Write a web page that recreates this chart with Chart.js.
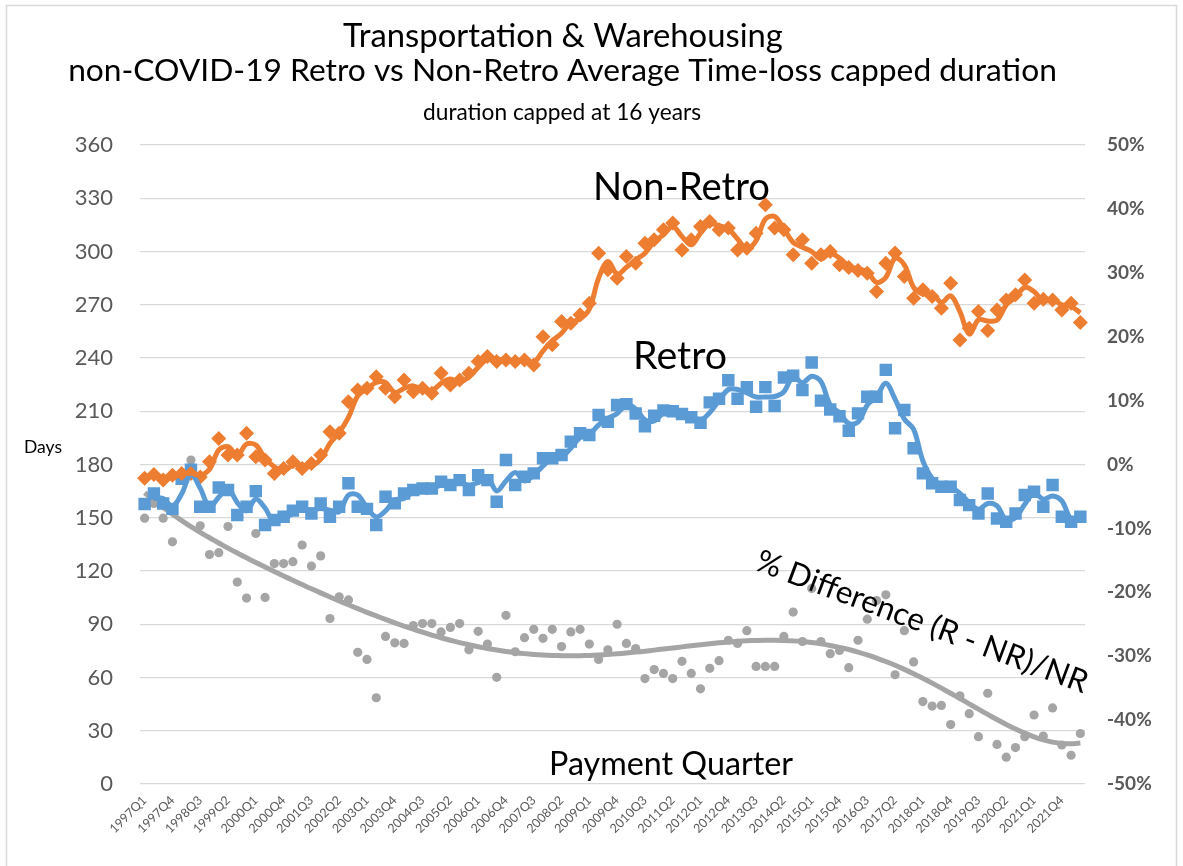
<!DOCTYPE html>
<html>
<head>
<meta charset="utf-8">
<script src="https://cdn.jsdelivr.net/npm/chart.js@4.4.1/dist/chart.umd.min.js"></script>
<style>
  html, body { margin: 0; padding: 0; background: #ffffff; }
  #wrap { width: 1183px; height: 866px; position: relative; }
</style>
</head>
<body>
<div id="wrap"><canvas id="chart" width="1183" height="866"></canvas></div>
<script>
// Payment quarters, 1997Q1 .. 2022Q2
const quarters = [];
for (let y = 1997; y <= 2022; y++) {
  for (let q = 1; q <= 4; q++) {
    if (y === 2022 && q > 2) break;
    quarters.push(y + 'Q' + q);
  }
}

// Average time-loss capped duration (days), non-retro employers
const nonRetroDays = [
  172.2, 174.4, 171.2, 174.0, 175.0, 175.0, 173.0, 181.6, 194.7, 185.3,
  185.3, 197.6, 184.4, 182.5, 175.0, 177.8, 181.6, 177.8, 180.6, 185.3,
  198.5, 197.6, 215.4, 222.0, 223.0, 229.5, 222.9, 218.2, 227.6, 221.0,
  222.9, 220.1, 231.4, 224.8, 227.6, 231.4, 238.0, 240.8, 238.0, 238.9,
  238.0, 238.9, 236.1, 252.0, 247.4, 260.5, 259.6, 264.3, 270.9, 299.0,
  289.7, 285.0, 297.2, 293.4, 304.7, 306.6, 312.2, 316.0, 300.9, 306.6,
  314.1, 316.9, 312.2, 313.2, 300.9, 301.9, 310.3, 326.3, 313.2, 312.2,
  298.1, 306.6, 293.4, 298.1, 300.0, 292.5, 291.0, 289.3, 287.8, 277.4,
  293.4, 299.1, 285.9, 273.7, 278.4, 274.6, 268.0, 282.1, 250.2, 256.8,
  266.2, 255.5, 267.1, 272.7, 275.6, 284.0, 270.9, 273.1, 272.7, 267.1,
  270.9, 260.0
];

// Average time-loss capped duration (days), retro employers
const retroDays = [
  157.7, 163.7, 158.0, 155.0, 172.0, 177.0, 156.2, 156.2, 167.0, 165.6,
  151.5, 156.2, 165.0, 145.9, 148.7, 150.6, 154.0, 156.2, 152.4, 158.0,
  150.6, 156.2, 169.4, 156.2, 155.0, 145.9, 161.8, 158.1, 163.7, 165.6,
  166.5, 166.5, 170.3, 168.4, 171.2, 165.6, 174.0, 171.2, 159.0, 182.5,
  168.4, 173.1, 175.0, 183.5, 183.5, 185.3, 192.9, 197.6, 196.6, 207.9,
  204.0, 213.5, 214.0, 208.7, 201.5, 207.5, 210.5, 210.0, 208.5, 206.6,
  203.5, 215.0, 217.0, 227.5, 217.0, 223.6, 212.5, 223.6, 213.0, 229.0,
  230.0, 222.0, 237.5, 216.0, 211.0, 207.2, 199.0, 208.8, 218.2, 218.2,
  233.3, 200.4, 210.7, 189.1, 175.0, 169.4, 167.5, 167.5, 160.0, 157.1,
  152.4, 163.7, 149.6, 147.7, 152.4, 162.8, 164.7, 156.2, 168.4, 150.6,
  147.7, 150.6
];

// % difference (R - NR)/NR, in percent
const pctDifference = [
   -8.4,  -6.1,  -8.4, -12.1,  -1.7,   0.7,  -9.6, -14.1, -13.8,  -9.7,
  -18.4, -20.9, -10.8, -20.8, -15.5, -15.5, -15.2, -12.6, -15.9, -14.3,
  -24.1, -20.7, -21.2, -29.4, -30.5, -36.5, -26.9, -27.9, -28.0, -25.2,
  -24.9, -24.9, -26.2, -25.5, -24.9, -29.0, -26.1, -28.1, -33.3, -23.6,
  -29.3, -27.1, -25.8, -27.2, -25.8, -28.5, -26.2, -25.8, -28.1, -30.5,
  -29.0, -25.0, -28.0, -28.8, -33.5, -32.1, -32.7, -33.5, -30.8, -32.7,
  -35.1, -31.9, -30.7, -27.5, -28.0, -26.0, -31.6, -31.6, -31.6, -26.9,
  -23.1, -27.7, -19.4, -27.7, -29.6, -29.1, -31.8, -27.5, -24.2, -21.3,
  -20.4, -32.9, -26.0, -30.9, -37.1, -37.8, -37.7, -40.7, -36.2, -39.0,
  -42.6, -35.8, -43.8, -45.8, -44.3, -42.6, -39.2, -42.5, -38.1, -43.9,
  -45.5, -42.1
];

// Axis ticks
const daysTicks = { min: 0, max: 360, step: 30 };
const pctTicks = { min: -50, max: 50, step: 10 };

// Trendlines: 2-period moving average and polynomial fit
function movingAverage(values, period) {
  return values.map((v, i) => {
    if (i < period - 1) return null;
    let s = 0;
    for (let k = 0; k < period; k++) s += values[i - k];
    return s / period;
  });
}

function polynomialTrend(values, degree) {
  const n = values.length, c = (n - 1) / 2, m = degree + 1;
  const A = Array.from({ length: m }, () => new Array(m + 1).fill(0));
  values.forEach((v, i) => {
    const t = (i - c) / c;
    const p = [];
    for (let k = 0; k < m; k++) p.push(Math.pow(t, k));
    for (let r = 0; r < m; r++) {
      for (let s = 0; s < m; s++) A[r][s] += p[r] * p[s];
      A[r][m] += p[r] * v;
    }
  });
  for (let col = 0; col < m; col++) {
    let piv = col;
    for (let r = col + 1; r < m; r++) if (Math.abs(A[r][col]) > Math.abs(A[piv][col])) piv = r;
    [A[col], A[piv]] = [A[piv], A[col]];
    for (let r = 0; r < m; r++) {
      if (r === col) continue;
      const f = A[r][col] / A[col][col];
      for (let s = col; s <= m; s++) A[r][s] -= f * A[col][s];
    }
  }
  const coef = A.map((row, k) => row[m] / row[k]);
  return values.map((_, i) => {
    const t = (i - c) / c;
    return coef.reduce((s, a, k) => s + a * Math.pow(t, k), 0);
  });
}

const ORANGE = '#ED7D31';
const BLUE = '#5B9BD5';
const GREY = '#A5A5A5';
const FONT = 'Lato, "Open Sans", sans-serif';

function fitFont(ctx, text, weight, width) {
  ctx.font = weight + ' 100px ' + FONT;
  return 100 * width / ctx.measureText(text).width;
}

function drawText(ctx, text, cx, baseline, width, opts = {}) {
  const weight = opts.weight || 'normal';
  const size = fitFont(ctx, text, weight, width);
  ctx.save();
  ctx.font = weight + ' ' + size.toFixed(2) + 'px ' + FONT;
  ctx.fillStyle = opts.color || '#000000';
  ctx.textAlign = 'center';
  ctx.textBaseline = opts.baseline || 'alphabetic';
  ctx.translate(cx, baseline);
  if (opts.angle) ctx.rotate(opts.angle * Math.PI / 180);
  ctx.fillText(text, 0, 0);
  ctx.restore();
}

// Frame and white background behind the chart
const framePlugin = {
  id: 'frame',
  beforeDraw(chart) {
    const ctx = chart.ctx;
    ctx.save();
    ctx.fillStyle = '#ffffff';
    ctx.fillRect(0, 0, chart.width, chart.height);
    ctx.strokeStyle = '#D9D9D9';
    ctx.lineWidth = 1.5;
    ctx.strokeRect(6.5, 5.5, chart.width - 13, chart.height + 10);
    ctx.restore();
  }
};

// Headings and in-plot labels
const labelPlugin = {
  id: 'labels',
  afterDatasetsDraw(chart) {
    const ctx = chart.ctx;
    drawText(ctx, 'Transportation & Warehousing', 563, 47, 440);
    drawText(ctx, 'non-COVID-19 Retro vs Non-Retro Average Time-loss capped duration', 562.5, 81, 989);
    drawText(ctx, 'duration capped at 16 years', 562, 120, 278);
    drawText(ctx, 'Days', 43, 453, 38);
    drawText(ctx, 'Non-Retro', 681.5, 200, 177);
    drawText(ctx, 'Retro', 680, 369, 94);
    drawText(ctx, 'Payment Quarter', 671, 775, 244);
    drawText(ctx, '% Difference (R - NR)/NR', 922, 622, 352, { angle: 20.6, baseline: 'middle' });
  }
};

const ctx = document.getElementById('chart').getContext('2d');
new Chart(ctx, {
  type: 'line',
  data: {
    labels: quarters,
    datasets: [
      {
        label: 'Non-Retro trend',
        data: movingAverage(nonRetroDays, 2),
        yAxisID: 'y',
        borderColor: ORANGE,
        borderWidth: 5,
        pointRadius: 0,
        tension: 0.35,
        order: 1
      },
      {
        label: 'Retro trend',
        data: movingAverage(retroDays, 2),
        yAxisID: 'y',
        borderColor: BLUE,
        borderWidth: 5,
        pointRadius: 0,
        tension: 0.35,
        order: 2
      },
      {
        label: 'Non-Retro',
        data: nonRetroDays,
        yAxisID: 'y',
        showLine: false,
        pointStyle: 'rectRot',
        pointRadius: 7.5,
        pointBorderWidth: 0,
        pointBackgroundColor: ORANGE,
        borderColor: ORANGE,
        order: 3
      },
      {
        label: 'Retro',
        data: retroDays,
        yAxisID: 'y',
        showLine: false,
        pointStyle: 'rect',
        pointRadius: 8.8,
        pointBorderWidth: 0,
        pointBackgroundColor: BLUE,
        borderColor: BLUE,
        order: 4
      },
      {
        label: '% Difference trend',
        data: polynomialTrend(pctDifference, 6),
        yAxisID: 'y1',
        borderColor: GREY,
        borderWidth: 5,
        pointRadius: 0,
        tension: 0.3,
        order: 5
      },
      {
        label: '% Difference (R - NR)/NR',
        data: pctDifference,
        yAxisID: 'y1',
        showLine: false,
        pointStyle: 'circle',
        pointRadius: 4.6,
        pointBorderWidth: 0,
        pointBackgroundColor: GREY,
        borderColor: GREY,
        order: 6
      }
    ]
  },
  options: {
    responsive: false,
    animation: false,
    devicePixelRatio: 1,
    layout: { padding: { top: 145, left: 0, right: 0, bottom: 0 } },
    plugins: {
      legend: { display: false },
      tooltip: { enabled: false },
      title: { display: false }
    },
    scales: {
      x: {
        type: 'category',
        offset: true,
        grid: { display: false, drawTicks: false, offset: true },
        border: { display: false },
        ticks: {
          autoSkip: false,
          maxRotation: 45,
          minRotation: 45,
          padding: 9,
          color: '#595959',
          font: { family: FONT, size: 12.5 },
          callback: function (value, index) {
            return index % 3 === 0 ? this.getLabelForValue(value) : null;
          }
        },
        afterFit(scale) { scale.height = 82; }
      },
      y: {
        position: 'left',
        min: daysTicks.min,
        max: daysTicks.max,
        grid: { color: '#D9D9D9', lineWidth: 1.3, drawTicks: false },
        border: { display: false },
        ticks: {
          stepSize: daysTicks.step,
          padding: 27,
          color: '#595959',
          font: { family: FONT, size: 22 }
        },
        afterFit(scale) { scale.width = 140; }
      },
      y1: {
        position: 'right',
        min: pctTicks.min,
        max: pctTicks.max,
        grid: { display: false, drawTicks: false },
        border: { display: false },
        ticks: {
          stepSize: pctTicks.step,
          padding: 22,
          color: '#595959',
          font: { family: FONT, size: 19, weight: 'bold' },
          callback: (v) => Math.round(v) + '%'
        },
        afterFit(scale) { scale.width = 98; }
      }
    }
  },
  plugins: [framePlugin, labelPlugin]
});
</script>
</body>
</html>
